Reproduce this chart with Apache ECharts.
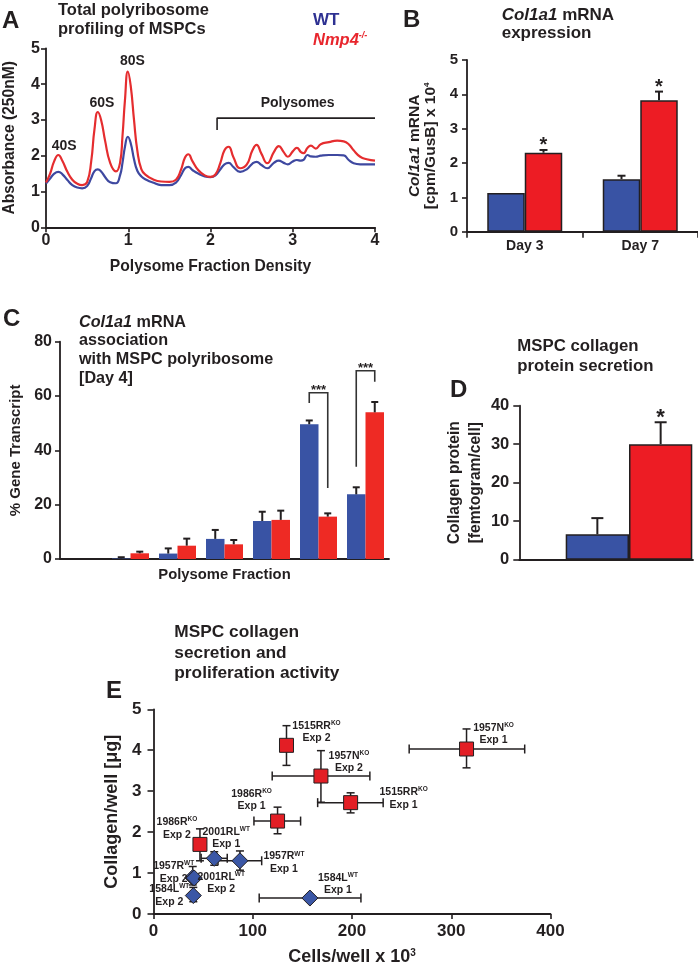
<!DOCTYPE html>
<html><head><meta charset="utf-8">
<script src="https://cdn.jsdelivr.net/npm/echarts@6/dist/echarts.min.js"></script>
<style>html,body{margin:0;padding:0;background:#fff}#c{width:698px;height:968px}</style>
</head><body><div id="c"></div>
<script>
// ---------- Panel A: polysome profile ----------
const profileX = [0.00,0.05,0.10,0.15,0.20,0.26,0.32,0.38,0.44,0.50,0.55,0.59,0.63,0.67,0.72,0.78,0.85,0.90,0.93,0.96,0.995,1.03,1.07,1.11,1.16,1.22,1.30,1.40,1.50,1.58,1.64,1.69,1.73,1.78,1.85,1.93,2.00,2.06,2.12,2.17,2.22,2.28,2.36,2.44,2.51,2.56,2.62,2.69,2.77,2.83,2.89,2.94,3.00,3.05,3.10,3.13,3.18,3.22,3.28,3.34,3.44,3.54,3.62,3.68,3.74,3.82,3.90,4.00];
const koAbs = [1.25,1.50,1.85,2.02,1.85,1.55,1.33,1.22,1.18,1.26,1.85,2.75,3.22,3.00,2.40,1.80,1.56,1.80,2.55,3.55,4.35,3.95,3.00,2.15,1.62,1.45,1.34,1.28,1.27,1.33,1.60,1.95,2.04,1.85,1.60,1.45,1.41,1.48,1.80,2.15,2.25,1.95,1.65,1.75,2.15,2.30,2.05,1.79,2.10,2.27,2.10,1.97,2.12,2.22,2.10,2.07,2.22,2.28,2.20,2.32,2.38,2.42,2.40,2.32,2.15,1.97,1.90,1.86];
const wtAbs = [1.22,1.36,1.50,1.55,1.48,1.32,1.18,1.11,1.09,1.15,1.38,1.57,1.62,1.56,1.40,1.26,1.23,1.45,1.80,2.25,2.53,2.35,1.90,1.58,1.42,1.33,1.25,1.18,1.18,1.25,1.45,1.65,1.69,1.60,1.50,1.42,1.40,1.45,1.62,1.76,1.80,1.68,1.55,1.62,1.78,1.83,1.74,1.65,1.80,1.86,1.80,1.76,1.84,1.88,1.86,1.88,2.02,1.98,1.97,2.00,2.02,2.02,2.01,1.88,1.79,1.76,1.76,1.76];
const polysomeBracket = [[2.08,2.72],[2.08,3.05],[4.0,3.05]];
const peakNames = ['40S','60S','80S','Polysomes'];
const peakLabelAt = [[0.22,2.28],[0.68,3.46],[1.05,4.63],[3.06,3.46]];

// ---------- Panel B: Col1a1 mRNA expression ----------
const bDays = ['Day 3','Day 7'];
const bWT = [1.13, 1.53];
const bWTErr = [1.13, 1.63];
const bKO = [2.30, 3.83];
const bKOErr = [2.38, 4.08];
const bKOStar = ['*','*'];

// ---------- Panel C: polysome association ----------
const cFractions = ['F1','F2','F3','F4','F5','F6','F7'];
const cWT = [0, 0.2, 2.0, 7.4, 14.0, 49.6, 23.8];
const cWTErr = [0, 0.65, 3.9, 10.7, 17.4, 51.0, 26.4];
const cKO = [0, 2.1, 4.9, 5.4, 14.4, 15.6, 54.0];
const cKOErr = [0, 2.7, 7.5, 7.0, 17.8, 16.8, 57.8];
const cSig = [[5, 61.2, 57.4, 26.1], [6, 69.3, 34.0, 65.3]]; // [fraction, top, WT end, KO end]

// ---------- Panel D: collagen secretion ----------
const dGroups = ['WT','Nmp4-/-'];
const dVal = [6.6, 30.0];
const dErr = [10.8, 35.7];
const dStar = ['', '*'];

// ---------- Panel E: collagen vs cells ----------
const koStrain = ['1515RR','1957N','1515RR','1957N','1986R','1986R'];
const koExp = ['Exp 2','Exp 2','Exp 1','Exp 1','Exp 1','Exp 2'];
const koCells = [134, 168.7, 198.6, 315.4, 125, 46.8];
const koCellsLo = [134, 119.6, 165.4, 257.6, 101.2, 46.8];
const koCellsHi = [134, 218, 231.4, 374, 148.2, 46.8];
const koColl = [4.12, 3.37, 2.72, 4.03, 2.27, 1.70];
const koCollLo = [3.63, 2.73, 2.47, 3.57, 1.96, 1.30];
const koCollHi = [4.60, 3.99, 2.96, 4.52, 2.61, 2.08];

const wtStrain = ['2001RL','1957R','1957R','2001RL','1584L','1584L'];
const wtExp = ['Exp 1','Exp 1','Exp 2','Exp 2','Exp 2','Exp 1'];
const wtCells = [61.2, 87.1, 39.5, 41, 40.1, 157.6];
const wtCellsLo = [48, 65, 39.5, 41, 40.1, 106.5];
const wtCellsHi = [74.3, 109, 39.5, 41, 40.1, 209];
const wtColl = [1.36, 1.30, 0.89, 0.88, 0.45, 0.39];
const wtCollLo = [1.19, 1.07, 0.71, 0.88, 0.30, 0.39];
const wtCollHi = [1.52, 1.54, 1.16, 0.88, 0.65, 0.39];

// ---------- styles / layout ----------
const INK = '#231f20';
const F = '"Liberation Sans", Arial, Helvetica, sans-serif';
const BLUE = '#3953a4', RED = '#ed1c24';
const LBLUE = '#3e48a0', LRED = '#e52d2f';
const CRED = '#ee2a24';
const ELBLUE = '#3b57a6', ELRED = '#e31e25';
const dColors = [BLUE, RED];
const koLabelOffset = [[30,-13],[28,-14],[53,-4],[27,-15],[-26,-21],[-23,-16]];
const wtLabelOffset = [[12,-20],[44,2],[-19,-5],[27,5],[-24,0],[28,-14]];

const chart = echarts.init(document.getElementById('c'), null, {renderer:'canvas'});

function axisBase(extra){
  return Object.assign({
    axisLine:{show:true, lineStyle:{color:INK, width:1.8}},
    axisTick:{show:true, length:5, lineStyle:{color:INK, width:1.6}},
    splitLine:{show:false},
    axisLabel:{color:INK, fontWeight:'bold', fontFamily:F, fontSize:16}
  }, extra);
}
function nameStyle(size, lh, rich){
  const s = {color:INK, fontWeight:'bold', fontFamily:F, fontSize:size, lineHeight:lh};
  if (rich) s.rich = rich;
  return s;
}

function catErr(xi, yi, vals, tops, off, cap, stars, lw, starSize){
  const data = vals.map((v,i)=>[i, v, tops[i]]);
  return {
    type:'custom', xAxisIndex:xi, yAxisIndex:yi, z:5, silent:true,
    data, encode:{x:0, y:[1,2]},
    renderItem(params, api){
      const i = api.value(0), v = api.value(1), t = api.value(2);
      const p0 = api.coord([i, v]), p1 = api.coord([i, t]);
      const x = p0[0] + off;
      const ch = [];
      if (t > v) {
        ch.push({type:'line', shape:{x1:x, y1:p0[1], x2:x, y2:p1[1]}, style:{stroke:INK, lineWidth:lw}});
        ch.push({type:'line', shape:{x1:x-cap/2, y1:p1[1], x2:x+cap/2, y2:p1[1]}, style:{stroke:INK, lineWidth:lw}});
      }
      const s = stars ? stars[params.dataIndex] : '';
      if (s) ch.push({type:'text', style:{text:s, x:x, y:p1[1]-4, align:'center', verticalAlign:'middle', fontSize:starSize, fontWeight:'bold', fontFamily:F, fill:INK}});
      return {type:'group', children:ch};
    }
  };
}

const sigSeries = {
  type:'custom', xAxisIndex:2, yAxisIndex:2, z:6, silent:true,
  data: cSig, encode:{x:0, y:[1,2,3]},
  renderItem(params, api){
    const c = api.value(0);
    const pt = api.coord([c, api.value(1)]);
    const pl = api.coord([c, api.value(2)]);
    const pr = api.coord([c, api.value(3)]);
    const xl = pt[0] - 9.25, xr = pt[0] + 9.25;
    return {type:'group', children:[
      {type:'polyline', shape:{points:[[xl,pl[1]],[xl,pt[1]],[xr,pt[1]],[xr,pr[1]]]}, style:{stroke:'#333', lineWidth:1.6, fill:null}},
      {type:'text', style:{text:'***', x:pt[0], y:pt[1]-2.6, align:'center', verticalAlign:'middle', fontSize:13, fontWeight:'bold', fontFamily:F, fill:INK}}
    ]};
  }
};

// text labels anchored at data points (custom series, so text stays crisp & black)
function labelSeries(xi, yi, points, texts, offs, size, rich){
  return {
    type:'custom', xAxisIndex:xi, yAxisIndex:yi, z:8, silent:true,
    data: points, encode:{x:0, y:1},
    renderItem(params, api){
      const c = api.coord([api.value(0), api.value(1)]);
      const o = offs ? offs[params.dataIndex] : [0,0];
      const st = {text:texts[params.dataIndex], x:c[0]+o[0], y:c[1]+o[1], align:'center', verticalAlign:'middle',
        fontSize:size, fontWeight:'bold', fontFamily:F, fill:INK};
      if (rich) st.rich = rich;
      return {type:'text', style:st};
    }
  };
}

const eErrData = koCells.map((x,i)=>[x, koColl[i], koCellsLo[i], koCellsHi[i], koCollLo[i], koCollHi[i]])
  .concat(wtCells.map((x,i)=>[x, wtColl[i], wtCellsLo[i], wtCellsHi[i], wtCollLo[i], wtCollHi[i]]));
const eErr = {
  type:'custom', xAxisIndex:5, yAxisIndex:5, z:2, silent:true, data:eErrData,
  encode:{x:[0,2,3], y:[1,4,5]},
  renderItem(params, api){
    const x = api.value(0), y = api.value(1);
    const xlo = api.value(2), xhi = api.value(3), ylo = api.value(4), yhi = api.value(5);
    const c = api.coord([x,y]);
    const st = {stroke:INK, lineWidth:1.5};
    const ch = [];
    if (xhi > xlo) {
      const a = api.coord([xlo,y]), b = api.coord([xhi,y]);
      ch.push({type:'line', shape:{x1:a[0],y1:c[1],x2:b[0],y2:c[1]}, style:st});
      ch.push({type:'line', shape:{x1:a[0],y1:c[1]-4.5,x2:a[0],y2:c[1]+4.5}, style:st});
      ch.push({type:'line', shape:{x1:b[0],y1:c[1]-4.5,x2:b[0],y2:c[1]+4.5}, style:st});
    }
    if (yhi > ylo) {
      const a = api.coord([x,ylo]), b = api.coord([x,yhi]);
      ch.push({type:'line', shape:{x1:c[0],y1:a[1],x2:c[0],y2:b[1]}, style:st});
      ch.push({type:'line', shape:{x1:c[0]-4,y1:a[1],x2:c[0]+4,y2:a[1]}, style:st});
      ch.push({type:'line', shape:{x1:c[0]-4,y1:b[1],x2:c[0]+4,y2:b[1]}, style:st});
    }
    return {type:'group', children:ch};
  }
};

const eRich = {
  n:{fontSize:10.5, fontWeight:'bold', fill:INK, fontFamily:F, lineHeight:12.5},
  s:{fontSize:6.5, fontWeight:'bold', fill:INK, fontFamily:F, verticalAlign:'top', lineHeight:12.5}
};
function eScatter(cells, coll, symbol, size, color){
  return {
    type:'scatter', xAxisIndex:5, yAxisIndex:5, z:4, symbol, symbolSize:size, silent:true,
    itemStyle:{color, borderColor:INK, borderWidth:1, opacity:1},
    data: cells.map((x,i)=>[x, coll[i]])
  };
}
const koTexts = koStrain.map((s,i)=>`{n|${s}}{s|KO}\n{n|${koExp[i]}}`);
const wtTexts = wtStrain.map((s,i)=>`{n|${s}}{s|WT}\n{n|${wtExp[i]}}`);

function gText(text, x, y, size, extra){
  return {type:'text', x, y, silent:true, style:Object.assign({text, fontSize:size, fontWeight:'bold', fontFamily:F, fill:INK, align:'left', verticalAlign:'top'}, extra||{})};
}
const italicRich = (size)=>({i:{fontSize:size, fontWeight:'bold', fontStyle:'italic', fontFamily:F, fill:INK}});

const option = {
  animation:false,
  backgroundColor:'#fff',
  grid:[
    {left:45, top:48.3, width:330, height:179},
    {left:467, top:60, width:256, height:171.7},
    {left:60, top:341.7, width:329, height:217.3},
    {left:519.3, top:405.7, width:173.7, height:154},
    {left:565.7, top:405.7, width:126.6, height:154},
    {left:153.5, top:709.3, width:397, height:205.7}
  ],
  xAxis:[
    axisBase({type:'value', gridIndex:0, min:0, max:4, interval:1,
      axisLabel:{color:INK, fontWeight:'bold', fontFamily:F, fontSize:16, margin:5},
      name:'Polysome Fraction Density', nameLocation:'middle', nameGap:31, nameTextStyle:nameStyle(15.7,17)}),
    axisBase({type:'category', gridIndex:1, data:bDays,
      axisTick:{show:true, length:6, lineStyle:{color:INK, width:1.6}},
      axisLabel:{color:INK, fontWeight:'bold', fontFamily:F, fontSize:14, margin:7}}),
    axisBase({type:'category', gridIndex:2, data:cFractions, axisTick:{show:false}, axisLabel:{show:false},
      name:'Polysome Fraction', nameLocation:'middle', nameGap:7.5, nameTextStyle:nameStyle(14.8,16)}),
    axisBase({type:'value', gridIndex:3, min:0, max:1, axisTick:{show:false}, axisLabel:{show:false}}),
    {type:'category', gridIndex:4, data:dGroups, show:false},
    axisBase({type:'value', gridIndex:5, min:0, max:400, interval:100,
      axisLabel:{color:INK, fontWeight:'bold', fontFamily:F, fontSize:17, margin:9},
      name:'Cells/well x 10{s|3}', nameLocation:'middle', nameGap:34,
      nameTextStyle:nameStyle(18,19,{s:{fontSize:10, fontWeight:'bold', fontFamily:F, color:INK, verticalAlign:'top', lineHeight:19}})})
  ],
  yAxis:[
    axisBase({type:'value', gridIndex:0, min:0, max:5, interval:1,
      axisLabel:{color:INK, fontWeight:'bold', fontFamily:F, fontSize:16, margin:6},
      name:'Absorbance (250nM)', nameLocation:'middle', nameGap:28, nameTextStyle:nameStyle(15.6,17)}),
    axisBase({type:'value', gridIndex:1, min:0, max:5, interval:1,
      axisLabel:{color:INK, fontWeight:'bold', fontFamily:F, fontSize:15, margin:9},
      name:'{i|Col1a1} mRNA\n[cpm/GusB] x 10{s|4}', nameLocation:'middle', nameGap:28,
      nameTextStyle:nameStyle(15.5,16,{
        i:{fontSize:15.5, fontWeight:'bold', fontStyle:'italic', fontFamily:F, color:INK, lineHeight:16},
        s:{fontSize:8, fontWeight:'bold', fontFamily:F, color:INK, verticalAlign:'top', lineHeight:16}})}),
    axisBase({type:'value', gridIndex:2, min:0, max:80, interval:20,
      axisLabel:{color:INK, fontWeight:'bold', fontFamily:F, fontSize:16, margin:8},
      name:'% Gene Transcript', nameLocation:'middle', nameGap:36, nameTextStyle:nameStyle(15,16)}),
    axisBase({type:'value', gridIndex:3, min:0, max:40, interval:10,
      axisTick:{show:true, length:6, lineStyle:{color:INK, width:1.6}},
      axisLabel:{color:INK, fontWeight:'bold', fontFamily:F, fontSize:16.5, margin:10},
      name:'Collagen protein\n[femtogram/cell]', nameLocation:'middle', nameGap:33, nameTextStyle:nameStyle(15.6,21)}),
    {type:'value', gridIndex:4, min:0, max:40, show:false},
    axisBase({type:'value', gridIndex:5, min:0, max:5, interval:1,
      axisTick:{show:true, length:6, lineStyle:{color:INK, width:1.6}},
      axisLabel:{color:INK, fontWeight:'bold', fontFamily:F, fontSize:17, margin:12},
      name:'Collagen/well [\u03bcg]', nameLocation:'middle', nameGap:32, nameTextStyle:nameStyle(18,19)})
  ],
  series:[
    // A
    {type:'line', name:'WT', xAxisIndex:0, yAxisIndex:0, data:profileX.map((x,i)=>[x, wtAbs[i]]),
      smooth:0.5, showSymbol:false, lineStyle:{color:LBLUE, width:2.2}, itemStyle:{color:LBLUE}, z:3},
    {type:'line', name:'Nmp4', xAxisIndex:0, yAxisIndex:0, data:profileX.map((x,i)=>[x, koAbs[i]]),
      smooth:0.5, showSymbol:false, lineStyle:{color:LRED, width:2.2}, itemStyle:{color:LRED}, z:4},
    {type:'line', xAxisIndex:0, yAxisIndex:0, data:polysomeBracket, showSymbol:false, silent:true,
      lineStyle:{color:INK, width:1.6}, itemStyle:{color:INK}},
    labelSeries(0, 0, peakLabelAt, peakNames, null, 14, null),
    // B
    {type:'bar', xAxisIndex:1, yAxisIndex:1, data:bWT, barWidth:37.5, barGap:'0%',
      itemStyle:{color:BLUE, borderColor:INK, borderWidth:1.5}},
    {type:'bar', xAxisIndex:1, yAxisIndex:1, data:bKO, barWidth:37.5, barGap:'0%',
      itemStyle:{color:RED, borderColor:INK, borderWidth:1.5}},
    catErr(1, 1, bWT, bWTErr, -18.75, 8, null, 2, 20),
    catErr(1, 1, bKO, bKOErr, 18.75, 8, bKOStar, 2, 20),
    // C
    {type:'bar', xAxisIndex:2, yAxisIndex:2, data:cWT, barWidth:18.5, barGap:'0%', itemStyle:{color:BLUE}},
    {type:'bar', xAxisIndex:2, yAxisIndex:2, data:cKO, barWidth:18.5, barGap:'0%', itemStyle:{color:CRED}},
    catErr(2, 2, cWT, cWTErr, -9.25, 7, null, 2, 13),
    catErr(2, 2, cKO, cKOErr, 9.25, 7, null, 2, 13),
    sigSeries,
    // D
    {type:'bar', xAxisIndex:4, yAxisIndex:4, barCategoryGap:'0%',
      data:dVal.map((v,i)=>({value:v, itemStyle:{color:dColors[i]}})),
      itemStyle:{borderColor:INK, borderWidth:1.5}},
    catErr(4, 4, dVal, dErr, 0, 12, dStar, 2, 22),
    // E
    eErr,
    eScatter(koCells, koColl, 'rect', 14, ELRED),
    eScatter(wtCells, wtColl, 'diamond', 16, ELBLUE),
    labelSeries(5, 5, koCells.map((x,i)=>[x, koColl[i]]), koTexts, koLabelOffset, 10.5, eRich),
    labelSeries(5, 5, wtCells.map((x,i)=>[x, wtColl[i]]), wtTexts, wtLabelOffset, 10.5, eRich)
  ],
  graphic:[
    gText('A', 2, 21, 24, {verticalAlign:'middle'}),
    gText('Total polyribosome\nprofiling of MSPCs', 58, 0.5, 16.5, {lineHeight:19}),
    gText('WT', 313, 20, 17, {verticalAlign:'middle', fill:'#2e3192'}),
    gText('{i|Nmp4}{s|-/-}', 313, 40, 16.5, {verticalAlign:'middle', fill:'#e8262d',
      rich:{i:{fontSize:16.5, fontWeight:'bold', fontStyle:'italic', fontFamily:F, fill:'#e8262d', lineHeight:18},
            s:{fontSize:9, fontWeight:'bold', fontStyle:'italic', fontFamily:F, fill:'#e8262d', verticalAlign:'top', lineHeight:18}}}),
    gText('B', 403, 20.5, 24, {verticalAlign:'middle'}),
    gText('{i|Col1a1} mRNA\nexpression', 501.7, 6, 17, {lineHeight:18, rich:italicRich(17)}),
    gText('C', 3, 319, 24, {verticalAlign:'middle'}),
    gText('{i|Col1a1} mRNA\nassociation\nwith MSPC polyribosome\n[Day 4]', 79, 312.7, 16.2, {lineHeight:18.7, rich:italicRich(16.2)}),
    gText('D', 450, 390, 24, {verticalAlign:'middle'}),
    gText('MSPC collagen\nprotein secretion', 517.3, 335.7, 16.8, {lineHeight:20.5}),
    gText('E', 106, 691.7, 24, {verticalAlign:'middle'}),
    gText('MSPC collagen\nsecretion and\nproliferation activity', 174.3, 622.5, 17.3, {lineHeight:20.3})
  ]
};
chart.setOption(option);
</script></body></html>
